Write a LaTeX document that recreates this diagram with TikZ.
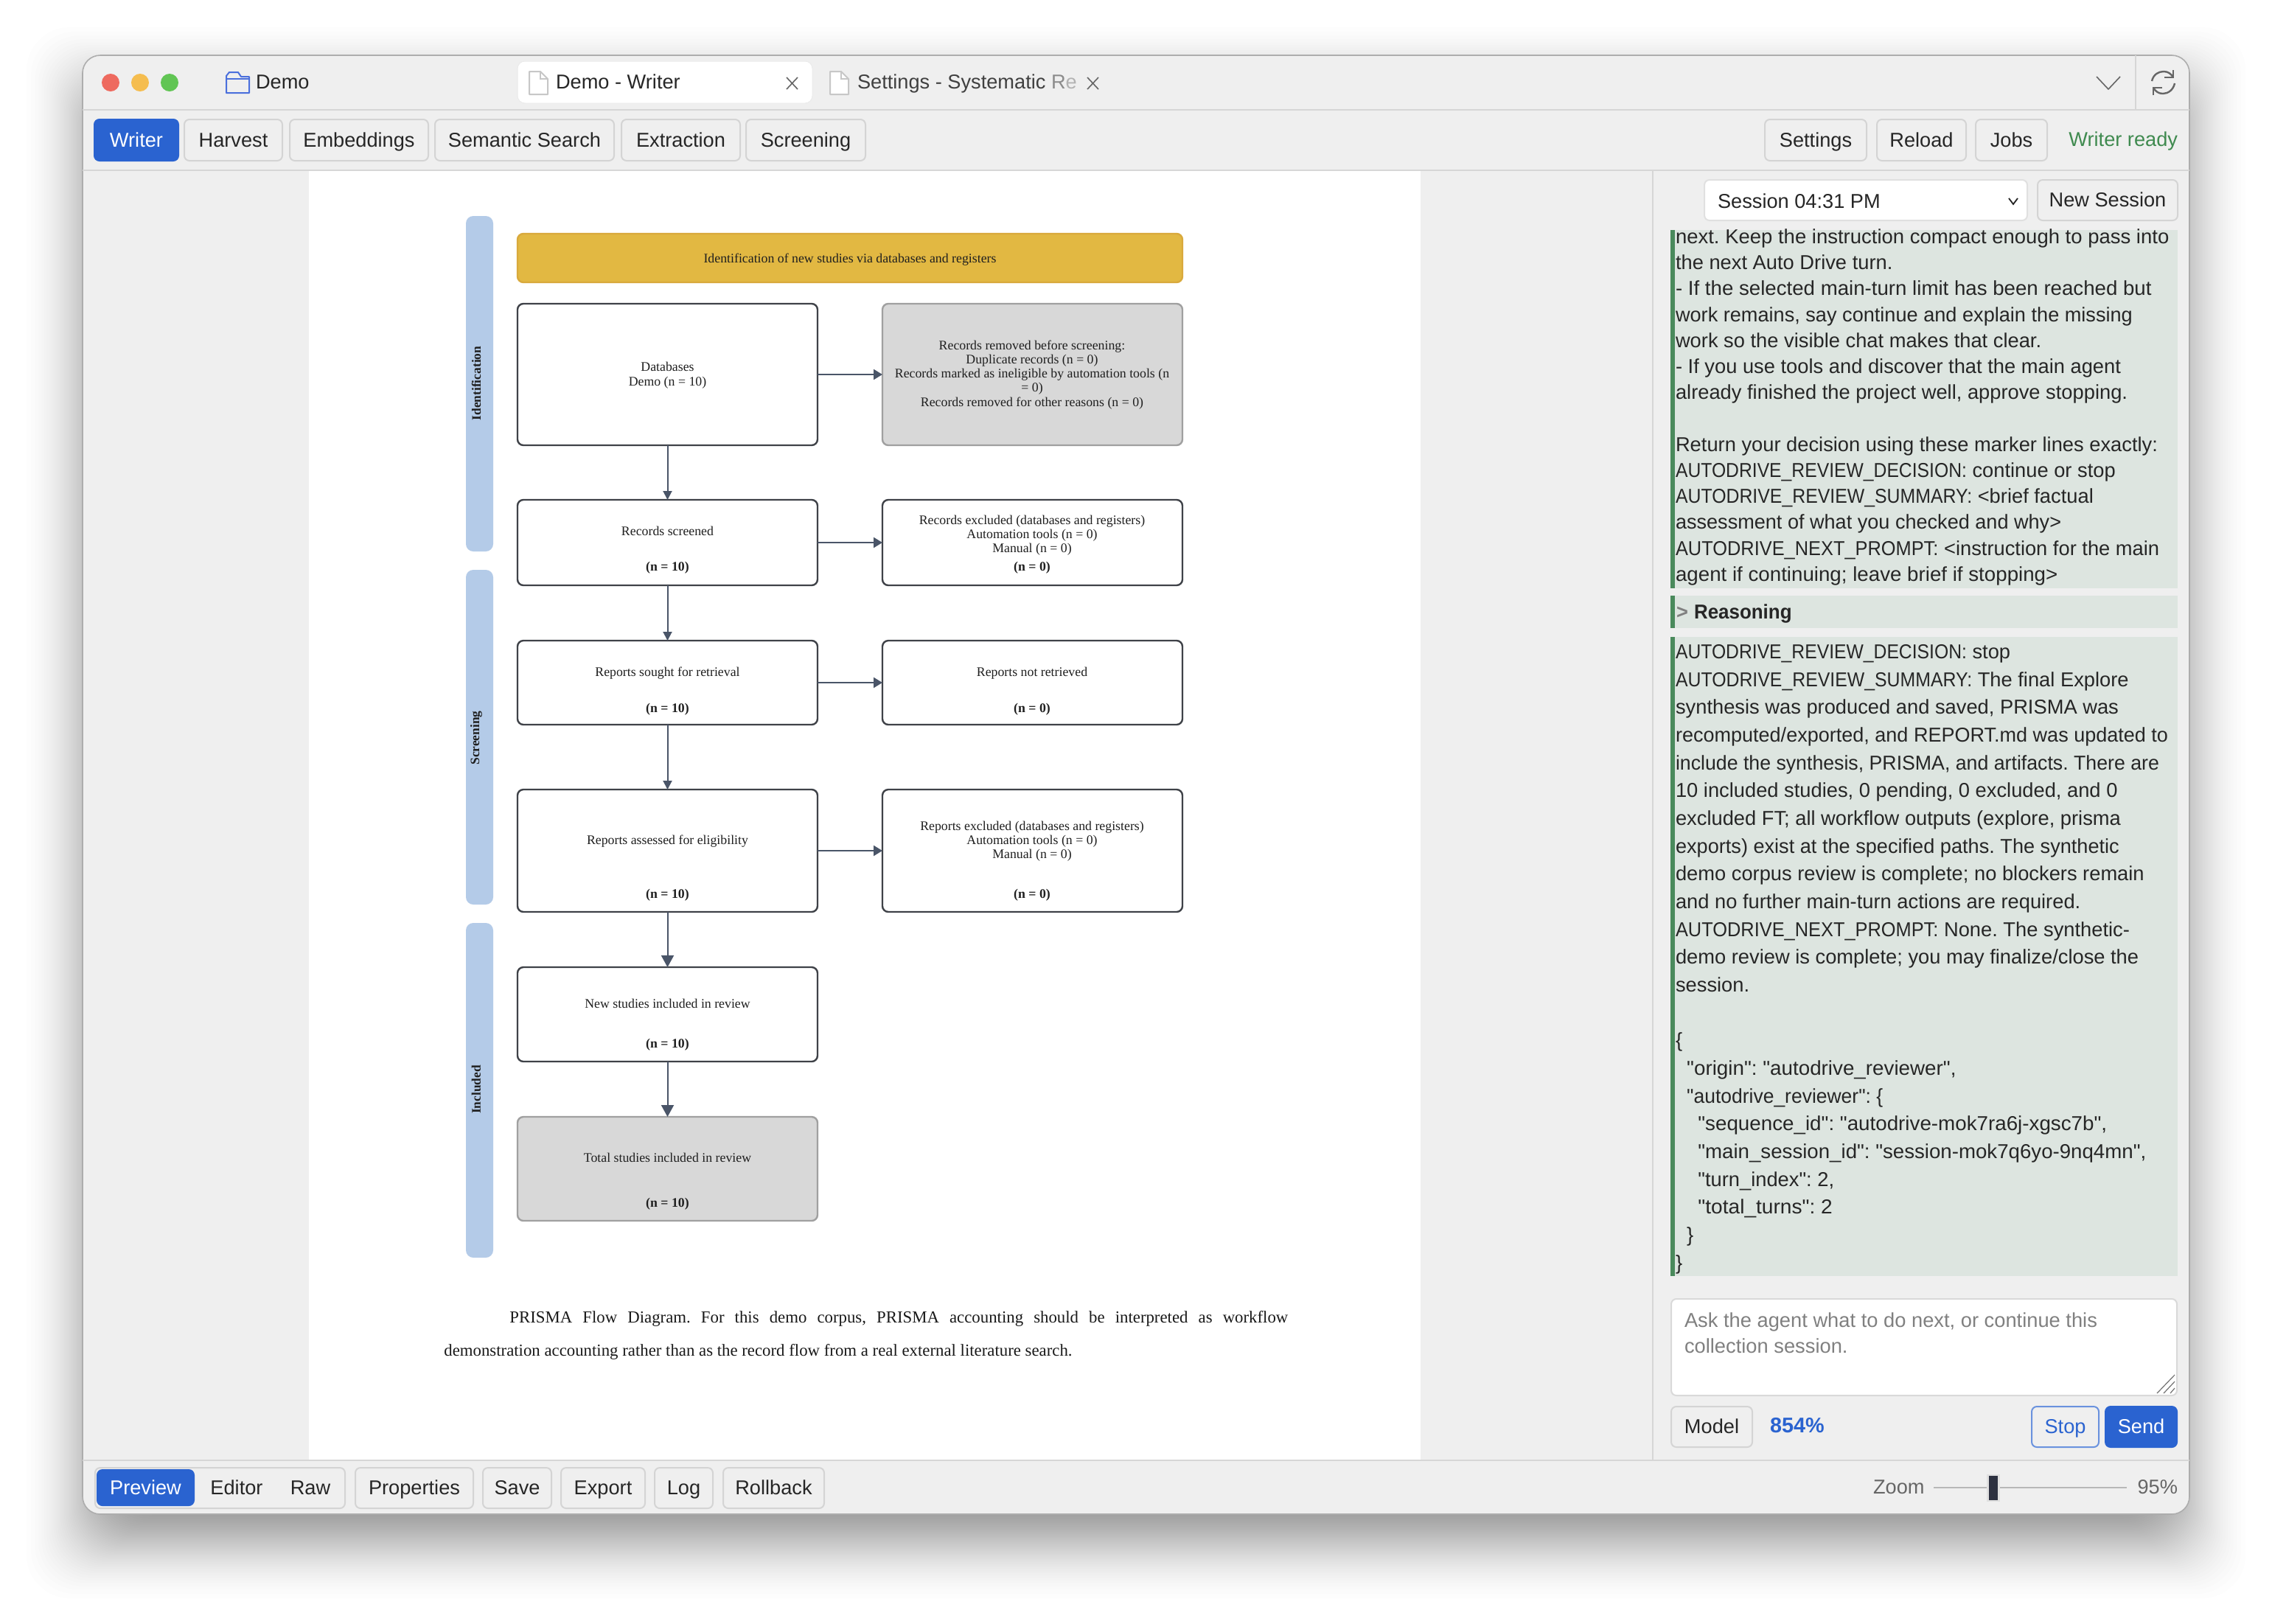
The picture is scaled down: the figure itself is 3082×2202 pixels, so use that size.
\documentclass[tikz,border=0pt]{standalone}
\usepackage{fontspec}
\usepackage{graphicx}
\usetikzlibrary{arrows.meta}
\setmainfont{Liberation Sans}[Ligatures=TeXOff]
\newfontfamily\serfont{Liberation Serif}
\frenchspacing
\definecolor{winbg}{HTML}{EFEFEF}
\definecolor{sep}{HTML}{D6D6D6}
\definecolor{btnedge}{HTML}{D4D4D4}
\definecolor{uitext}{HTML}{262626}
\definecolor{accent}{HTML}{2A63D0}
\definecolor{okgreen}{HTML}{3F8A4F}
\definecolor{chatbg}{HTML}{DDE5E0}
\definecolor{chatbar}{HTML}{4A8A5C}
\definecolor{lane}{HTML}{B4CBE8}
\definecolor{banner}{HTML}{E2B842}
\definecolor{bannerline}{HTML}{D9A93C}
\definecolor{grayfill}{HTML}{D8D8D8}
\definecolor{grayline}{HTML}{A0A0A0}
\definecolor{boxline}{HTML}{3F4248}
\definecolor{arrowc}{HTML}{4A5568}
\definecolor{tlred}{HTML}{EE6A5F}
\definecolor{tlyel}{HTML}{F5BD4F}
\definecolor{tlgrn}{HTML}{61C554}
\definecolor{thumb}{HTML}{2D3140}
\definecolor{folder}{HTML}{4A6FDC}
\newcommand{\uifont}{\fontsize{13.6}{16}\selectfont}
\newcommand{\chatfont}{\fontsize{13.65}{16}\selectfont\frenchspacing}
\newcommand{\serf}{\serfont\fontsize{8.9}{10.5}\selectfont}
\newcommand{\capf}{\serfont\fontsize{11.4}{13}\selectfont\frenchspacing}
\newcommand{\hs}[2]{\scalebox{#1}[1]{#2}}
\tikzset{
  uibtn/.style={draw=btnedge,fill=winbg,line width=1pt,rounded corners=3.5pt,text=uitext,font=\uifont,inner sep=0pt,outer sep=0pt,text height=11pt,text depth=2pt},
  prim/.style={uibtn,draw=accent,fill=accent,text=white},
  plain/.style={font=\uifont,text=uitext,inner sep=0pt,outer sep=0pt,yshift=-1pt},
  chat/.style={font=\chatfont,text=uitext,inner sep=0pt,outer sep=0pt,anchor=mid west,yshift=-1pt},
  flowbox/.style={draw=boxline,fill=white,line width=1.2pt,rounded corners=4pt,inner sep=0pt,outer sep=0pt},
  grayb/.style={flowbox,draw=grayline,fill=grayfill},
  bannerb/.style={flowbox,draw=bannerline,fill=banner},
  lanebar/.style={fill=lane,rounded corners=5pt,inner sep=0pt,outer sep=0pt},
  flowt/.style={font=\serf,text=black!88,inner sep=0pt,outer sep=0pt,anchor=mid},
  flowb/.style={flowt,font=\serf\bfseries},
  lanet/.style={font=\serfont\fontsize{8.7}{10}\selectfont\bfseries,text=black!88,inner sep=0pt,outer sep=0pt,rotate=90,anchor=center},
  arrs/.style={draw=arrowc,line width=1pt,-{Triangle[width=6pt,length=6pt]}},
  arrl/.style={draw=arrowc,line width=1pt,-{Triangle[width=8.5pt,length=8pt]}},
  arrh/.style={draw=arrowc,line width=1.1pt,-{Triangle[width=7pt,length=6pt]}},
  docicon/.style={draw=black!22,fill=white,line width=1pt,line join=round},
  iconline/.style={draw=black!60,line width=1.2pt},
}
\newcommand{\rbox}[7]{%
  \pgfmathsetmacro{\rbw}{(#3-#2)*0.5}\pgfmathsetmacro{\rbh}{(#5-#4)*0.5}%
  \node[#6,minimum width=\rbw pt,minimum height=\rbh pt] (#1) at ({(#2+#3)/2},{(#4+#5)/2}) {#7};}
\newcommand{\cl}[3]{\node[chat] (#1) at (2273,#2) {#3};}
\newcommand{\ft}[4]{\node[flowt] (#1) at (#2,#3) {#4};}
\newcommand{\fb}[4]{\node[flowb] (#1) at (#2,#3) {#4};}
\begin{document}
\begin{tikzpicture}[x=0.5pt,y=-0.5pt]
\useasboundingbox (0,0) rectangle (3082,2202);
\fill[white] (0,0) rectangle (3082,2202);
% window shadow: layers spaced so the falloff is soft
\foreach \i in {1,...,61}{
  \pgfmathsetmacro{\p}{(\i-0.5)/65}
  \pgfmathsetmacro{\e}{50*ln(\p/(1-\p))/1.7}
  \fill[black,opacity=0.00785,rounded corners=30pt] ({112-\e},{113-\e}) rectangle ({2970+\e},{2092+\e});
}
% window
\draw[draw=black!32,fill=winbg,line width=0.8pt,rounded corners=12pt] (112,75) rectangle (2970,2054);
\draw[sep,line width=1.2pt] (112,149) -- (2970,149);
\draw[sep,line width=1.2pt] (112,231) -- (2970,231);
\draw[sep,line width=1.2pt] (112,1981) -- (2970,1981);
\draw[sep,line width=0.7pt] (2897,75) -- (2897,149);
\draw[sep,line width=0.8pt] (2242,231) -- (2242,1981);
% page
\fill[white] (419,232) rectangle (1927,1980);
% traffic lights
\fill[tlred] (150,112) circle (12);
\fill[tlyel] (190,112) circle (12);
\fill[tlgrn] (230,112) circle (12);
% folder icon
\draw[draw=folder,line width=1pt,line join=round] (307,126) -- (338,126) -- (338,104) -- (327,104) -- (323,98) -- (311,98) -- (307,103) -- cycle;
\draw[draw=folder,line width=0.8pt] (307,107) -- (338,107);
\node[plain,anchor=mid west] (t1) at (347,113) {Demo};
% tabs
\rbox{tab1}{702}{1102}{83}{140}{draw=black!8,fill=white,rounded corners=5pt,line width=0.5pt,inner sep=0pt}{}
\draw[docicon] (718,97) -- (733,97) -- (743,107) -- (743,128) -- (718,128) -- cycle;
\draw[draw=black!22,line width=0.8pt] (733,97) -- (733,107) -- (743,107);
\node[plain,anchor=mid west] (t2) at (754,113) {Demo - Writer};
\draw[black!60,line width=0.8pt] (1067,105) -- (1082,121) (1082,105) -- (1067,121);
\draw[docicon] (1126,97) -- (1141,97) -- (1151,107) -- (1151,128) -- (1126,128) -- cycle;
\draw[draw=black!22,line width=0.8pt] (1141,97) -- (1141,107) -- (1151,107);
\node[plain,anchor=mid west,text=black!75] (t3) at (1163,113) {Settings - Systematic \textcolor{black!45}{R}\textcolor{black!30}{e}};
\draw[black!60,line width=0.8pt] (1475,105) -- (1490,121) (1490,105) -- (1475,121);
\draw[black!60,line width=0.8pt,line join=round] (2844,104) -- (2860,121) -- (2876,104);
% refresh icon
\draw[iconline] (2919,110) .. controls (2921,101) and (2928,97) .. (2935,97) .. controls (2941,97) and (2945,100) .. (2948,105);
\draw[iconline] (2950,113) .. controls (2948,122) and (2941,127) .. (2934,127) .. controls (2928,127) and (2924,124) .. (2921,119);
\draw[iconline,miter limit=10] (2948,95) -- (2948,105) -- (2936,105);
\draw[iconline,miter limit=10] (2921,129) -- (2921,119) -- (2933,119);
% toolbar
\rbox{bwriter}{128}{242}{162}{218}{prim}{Writer}
\rbox{bharv}{250}{383}{162}{218}{uibtn}{Harvest}
\rbox{bemb}{393}{581}{162}{218}{uibtn}{Embeddings}
\rbox{bsem}{590}{833}{162}{218}{uibtn}{Semantic Search}
\rbox{bext}{843}{1004}{162}{218}{uibtn}{Extraction}
\rbox{bscr}{1012}{1174}{162}{218}{uibtn}{Screening}
\rbox{bset}{2394}{2532}{162}{218}{uibtn}{Settings}
\rbox{brel}{2546}{2667}{162}{218}{uibtn}{Reload}
\rbox{bjob}{2680}{2777}{162}{218}{uibtn}{Jobs}
\node[plain,text=okgreen,anchor=mid east] (tready) at (2954,191) {Writer ready};
% bottom bar
\rbox{bgroup}{129}{468}{1991}{2046}{uibtn}{}
\rbox{bprev}{132}{263}{1994}{2042}{prim}{Preview}
\node[uibtn,draw=none,fill=none] (tedit) at (321,2018.5) {Editor};
\node[uibtn,draw=none,fill=none] (traw) at (421,2018.5) {Raw};
\rbox{bprop}{482}{642}{1991}{2046}{uibtn}{Properties}
\rbox{bsave}{655}{748}{1991}{2046}{uibtn}{Save}
\rbox{bexp}{761}{875}{1991}{2046}{uibtn}{Export}
\rbox{blog}{888}{967}{1991}{2046}{uibtn}{Log}
\rbox{broll}{981}{1118}{1991}{2046}{uibtn}{Rollback}
\node[plain,text=black!60,anchor=mid west] (tzoom) at (2541,2019) {Zoom};
\draw[black!28,line width=1pt] (2623,2018) -- (2885,2018);
\fill[black!12] (2695,2000) rectangle (2713,2037);
\fill[thumb] (2698,2002) rectangle (2710,2035);
\node[plain,text=black!60,anchor=mid east] (tpct) at (2954,2019) {95\%};
% session selector
\rbox{bsess}{2312}{2750}{244}{299}{uibtn,fill=white,draw=black!12}{}
\node[plain,anchor=mid west] (tsess) at (2330,275) {Session 04:31 PM};
\draw[black!85,line width=0.9pt] (2725,269) -- (2731,277) -- (2737,269);
\rbox{bnew}{2764}{2954}{244}{299}{uibtn}{New Session}
% chat blocks
\fill[chatbg] (2266,312) rectangle (2954,798);
\fill[chatbar] (2266,312) rectangle (2272,798);
\fill[chatbg] (2266,808) rectangle (2954,852);
\fill[chatbar] (2266,808) rectangle (2272,852);
\fill[chatbg] (2266,864) rectangle (2954,1731);
\fill[chatbar] (2266,864) rectangle (2272,1731);
\cl{a1}{323}{\hs{1.007}{next. Keep the instruction compact enough to pass into}}
\cl{a2}{358}{the next Auto Drive turn.}
\cl{a3}{393.5}{\hs{1.013}{- If the selected main-turn limit has been reached but}}
\cl{a4}{429}{\hs{0.994}{work remains, say continue and explain the missing}}
\cl{a5}{464}{work so the visible chat makes that clear.}
\cl{a6}{499}{- If you use tools and discover that the main agent}
\cl{a7}{534.5}{already finished the project well, approve stopping.}
\cl{a8}{605}{Return your decision using these marker lines exactly:}
\cl{a9}{640}{\hs{0.905}{AUTODRIVE\_REVIEW\_DECISION:} continue or stop}
\cl{a10}{675}{\hs{0.91}{AUTODRIVE\_REVIEW\_SUMMARY:} <brief factual}
\cl{a11}{710.5}{\hs{0.992}{assessment of what you checked and why>}}
\cl{a12}{745.7}{\hs{0.93}{AUTODRIVE\_NEXT\_PROMPT:} <instruction for the main}
\cl{a13}{781}{\hs{1.015}{agent if continuing; leave brief if stopping>}}
\node[chat,text=black!50,font=\chatfont\bfseries] (rq) at (2274,832) {>};
\node[chat,font=\chatfont\bfseries] (rh) at (2298,832) {\hs{0.95}{Reasoning}};
\cl{b1}{886}{\hs{0.905}{AUTODRIVE\_REVIEW\_DECISION:} stop}
\cl{b2}{924}{\hs{0.91}{AUTODRIVE\_REVIEW\_SUMMARY:} The final Explore}
\cl{b3}{961}{synthesis was produced and saved, PRISMA was}
\cl{b4}{999}{\hs{0.99}{recomputed/exported, and REPORT.md was updated to}}
\cl{b5}{1037}{\hs{0.978}{include the synthesis, PRISMA, and artifacts. There are}}
\cl{b6}{1074}{10 included studies, 0 pending, 0 excluded, and 0}
\cl{b7}{1112}{excluded FT; all workflow outputs (explore, prisma}
\cl{b8}{1150}{\hs{0.994}{exports) exist at the specified paths. The synthetic}}
\cl{b9}{1187}{demo corpus review is complete; no blockers remain}
\cl{b10}{1225}{and no further main-turn actions are required.}
\cl{b11}{1263}{\hs{0.93}{AUTODRIVE\_NEXT\_PROMPT:} None. The synthetic-}
\cl{b12}{1300}{demo review is complete; you may finalize/close the}
\cl{b13}{1338}{session.}
\cl{b14}{1413}{\{}
\cl{b15}{1451}{\ \ \hs{1.018}{"origin": "autodrive\_reviewer",}}
\cl{b16}{1489}{\ \ \hs{0.97}{"autodrive\_reviewer": \{}}
\cl{b17}{1526}{\ \ \ \ \hs{1.017}{"sequence\_id": "autodrive-mok7ra6j-xgsc7b",}}
\cl{b18}{1564}{\ \ \ \ \hs{1.013}{"main\_session\_id": "session-mok7q6yo-9nq4mn",}}
\cl{b19}{1602}{\ \ \ \ "turn\_index": 2,}
\cl{b20}{1639}{\ \ \ \ \hs{1.03}{"total\_turns": 2}}
\cl{b21}{1677}{\ \ \}}
\cl{b22}{1715}{\}}
% composer
\rbox{tarea}{2267}{2953}{1762}{1893}{uibtn,fill=white,draw=black!15}{}
\node[chat,text=black!50] (ph1) at (2285,1793) {Ask the agent what to do next, or continue this};
\node[chat,text=black!50] (ph2) at (2285,1828) {collection session.};
\draw[black!55,line width=0.6pt] (2926,1890) -- (2950,1865) (2935,1890) -- (2950,1874) (2944,1890) -- (2950,1883);
\rbox{bmodel}{2267}{2377}{1908}{1963}{uibtn}{Model}
\node[plain,text=accent,font=\fontsize{14.4}{16}\selectfont\bfseries,anchor=mid west] (tpc) at (2401,1936) {854\%};
\rbox{bstop}{2756}{2847}{1908}{1963}{uibtn,draw=accent!70!white,text=accent}{Stop}
\rbox{bsend}{2856}{2953}{1908}{1963}{prim}{Send}
% lanes
\rbox{lane1}{632}{669}{293}{748}{lanebar}{}
\rbox{lane2}{632}{669}{773}{1227}{lanebar}{}
\rbox{lane3}{632}{669}{1252}{1706}{lanebar}{}
\node[lanet] (li) at (646,520) {Identification};
\node[lanet] (ls) at (646,1001) {Screening};
\node[lanet] (ln) at (646,1478) {Included};
% flow boxes
\rbox{hd}{702}{1604}{317}{383}{bannerb}{}
\ft{thd}{1153}{351}{Identification of new studies via databases and registers}
\rbox{db}{702}{1109}{412}{604}{flowbox}{}
\ft{tdb1}{905.5}{498}{Databases}
\ft{tdb2}{905.5}{518}{Demo (n = 10)}
\rbox{rm}{1197}{1604}{412}{604}{grayb}{}
\ft{trm1}{1400}{469}{Records removed before screening:}
\ft{trm2}{1400}{488.5}{Duplicate records (n = 0)}
\ft{trm3}{1400}{507.6}{Records marked as ineligible by automation tools (n}
\ft{trm4}{1400}{526.5}{= 0)}
\ft{trm5}{1400}{546}{Records removed for other reasons (n = 0)}
\rbox{rs}{702}{1109}{678}{794}{flowbox}{}
\ft{trs1}{905.5}{721}{Records screened}
\fb{trs2}{905.5}{769}{(n = 10)}
\rbox{re}{1197}{1604}{678}{794}{flowbox}{}
\ft{tre1}{1400}{706}{Records excluded (databases and registers)}
\ft{tre2}{1400}{725}{Automation tools (n = 0)}
\ft{tre3}{1400}{744}{Manual (n = 0)}
\fb{tre4}{1400}{769}{(n = 0)}
\rbox{sr}{702}{1109}{869}{983}{flowbox}{}
\ft{tsr1}{905.5}{912}{Reports sought for retrieval}
\fb{tsr2}{905.5}{961}{(n = 10)}
\rbox{nr}{1197}{1604}{869}{983}{flowbox}{}
\ft{tnr1}{1400}{912}{Reports not retrieved}
\fb{tnr2}{1400}{961}{(n = 0)}
\rbox{ra}{702}{1109}{1071}{1237}{flowbox}{}
\ft{tra1}{905.5}{1140}{Reports assessed for eligibility}
\fb{tra2}{905.5}{1213}{(n = 10)}
\rbox{rx}{1197}{1604}{1071}{1237}{flowbox}{}
\ft{trx1}{1400}{1121}{Reports excluded (databases and registers)}
\ft{trx2}{1400}{1140}{Automation tools (n = 0)}
\ft{trx3}{1400}{1159}{Manual (n = 0)}
\fb{trx4}{1400}{1213}{(n = 0)}
\rbox{ns}{702}{1109}{1312}{1440}{flowbox}{}
\ft{tns1}{905.5}{1362}{New studies included in review}
\fb{tns2}{905.5}{1416}{(n = 10)}
\rbox{ts}{702}{1109}{1515}{1656}{grayb}{}
\ft{tts1}{905.5}{1571}{Total studies included in review}
\fb{tts2}{905.5}{1632}{(n = 10)}
% connectors
\draw[arrh] (db) -- (rm);
\draw[arrh] (rs) -- (re);
\draw[arrh] (sr) -- (nr);
\draw[arrh] (ra) -- (rx);
\draw[arrs] (db) -- (rs);
\draw[arrs] (rs) -- (sr);
\draw[arrs] (sr) -- (ra);
\draw[arrl] (ra) -- (ns);
\draw[arrl] (ns) -- (ts);
% caption
\node[inner sep=0pt,anchor=mid west,font=\capf,text=black!90] (c1) at (691,1789) {\makebox[528pt][s]{PRISMA Flow Diagram. For this demo corpus, PRISMA accounting should be interpreted as workflow}};
\node[inner sep=0pt,anchor=mid west,font=\capf,text=black!90] (c2) at (602,1834) {demonstration accounting rather than as the record flow from a real external literature search.};
\end{tikzpicture}
\end{document}
